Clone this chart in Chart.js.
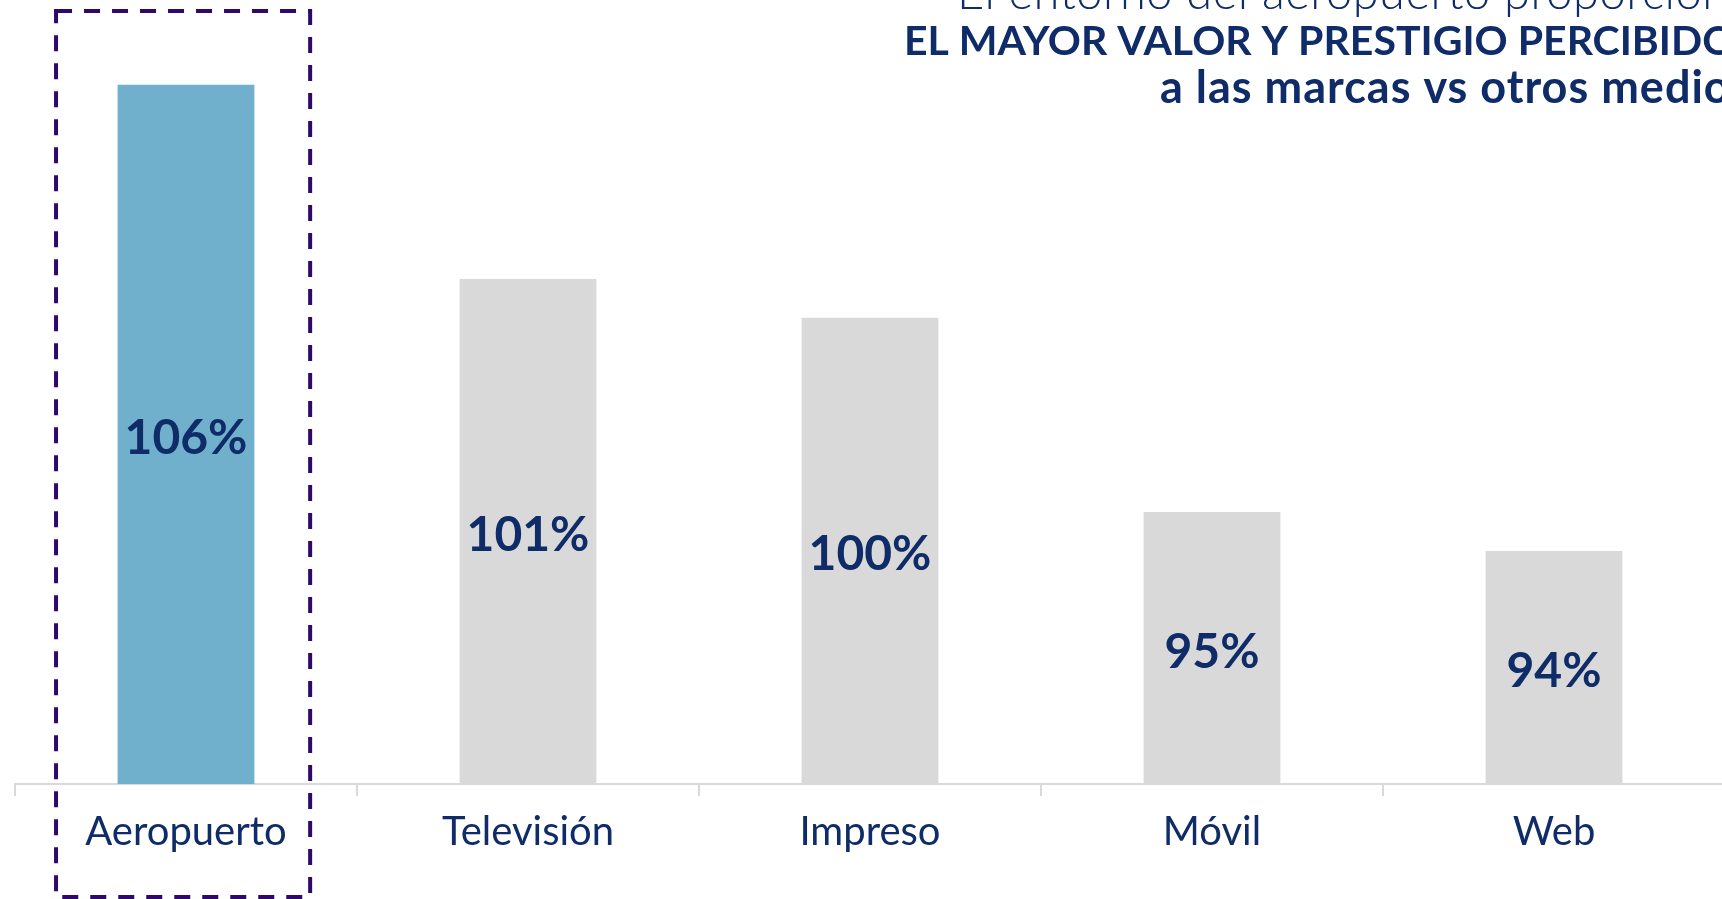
<!DOCTYPE html>
<html>
<head>
<meta charset="utf-8">
<script src="https://cdn.jsdelivr.net/npm/chart.js@4.4.1/dist/chart.umd.min.js"></script>
<style>
  html, body { margin: 0; padding: 0; background: #fff; overflow: hidden; }
  #wrap { position: relative; width: 1730px; height: 899px; }
</style>
</head>
<body>
<div id="wrap"><canvas id="mediaChart"></canvas></div>
<script>
const categories = ['Aeropuerto', 'Televisión', 'Impreso', 'Móvil', 'Web'];
const values = [106, 101, 100, 95, 94];
const barColors = ['#70b0cd', '#d9d9d9', '#d9d9d9', '#d9d9d9', '#d9d9d9'];
const titleLines = [
    'El entorno del aeropuerto proporciona',
    'EL MAYOR VALOR Y PRESTIGIO PERCIBIDO',
    'a las marcas vs otros medios'
];

const navy = '#0f2c68';

// value labels in the middle of each bar (bars are cut at the chart area bottom)
const valueLabels = {
    id: 'valueLabels',
    afterDatasetsDraw(chart) {
        const ctx = chart.ctx;
        const meta = chart.getDatasetMeta(0);
        const bottom = chart.chartArea.bottom;
        ctx.save();
        ctx.fillStyle = navy;
        ctx.font = 'bold 48px Lato';
        ctx.textAlign = 'center';
        ctx.textBaseline = 'middle';
        meta.data.forEach((bar, i) => {
            const p = bar.getProps(['x', 'y'], true);
            ctx.fillText(values[i] + '%', p.x, (p.y + bottom) / 2 + 4);
        });
        ctx.restore();
    }
};

// dashed box around the first category + the heading text
const decorations = {
    id: 'decorations',
    afterDraw(chart) {
        const ctx = chart.ctx;
        const x = chart.scales.x;
        const area = chart.chartArea;
        const w = x.width / categories.length;
        const cx = x.getPixelForValue(0);

        ctx.save();
        ctx.strokeStyle = '#2e0969';
        ctx.lineWidth = 4;
        ctx.setLineDash([16, 12]);
        ctx.strokeRect(cx - 0.38 * w, area.top + 4, 0.743 * w, chart.height - area.top - 6);
        ctx.restore();

        ctx.save();
        ctx.fillStyle = navy;
        ctx.textAlign = 'left';
        ctx.textBaseline = 'alphabetic';
        ctx.font = '300 47px Lato';
        ctx.letterSpacing = '0.5px';
        ctx.fillText(titleLines[0], 957, 9);
        ctx.font = 'bold 41px Lato';
        ctx.letterSpacing = '0px';
        ctx.fillText(titleLines[1], 904, 55);
        ctx.font = 'bold 45px Lato';
        ctx.letterSpacing = '1px';
        ctx.fillText(titleLines[2], 1160, 103);
        ctx.restore();
    }
};

const ctxB = document.getElementById('mediaChart').getContext('2d');

const mediaChart = new Chart(ctxB, {
    type: 'bar',
    plugins: [valueLabels, decorations],
    data: {
        labels: categories,
        datasets: [{
            data: values,
            backgroundColor: barColors,
            borderWidth: 0,
            barPercentage: 0.4,
            categoryPercentage: 1
        }]
    },
    options: {
        responsive: true,
        maintainAspectRatio: false,
        animation: false,
        layout: {
            padding: { left: 15, right: 5, top: 7, bottom: 31 }
        },
        plugins: {
            legend: { display: false },
            tooltip: { enabled: false }
        },
        scales: {
            x: {
                grid: {
                    offset: true,
                    drawOnChartArea: false,
                    drawTicks: true,
                    tickLength: 12,
                    color: '#d9d9d9',
                    lineWidth: 2
                },
                border: { display: true, color: '#d9d9d9', width: 2 },
                ticks: {
                    color: navy,
                    padding: 12,
                    maxRotation: 0,
                    autoSkip: false,
                    font: { family: 'Lato', size: 40 }
                }
            },
            y: {
                display: false,
                min: 88,
                max: 108
            }
        }
    }
});
</script>
</body>
</html>
